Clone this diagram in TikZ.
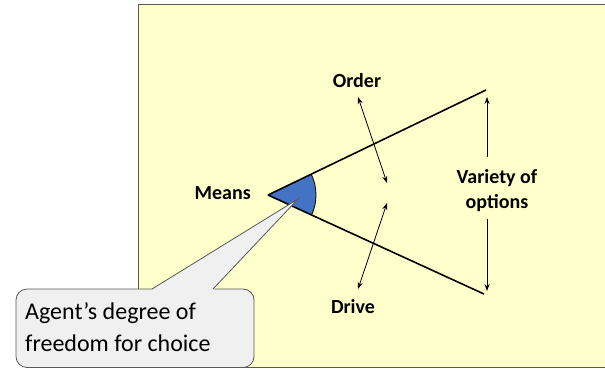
\documentclass[tikz,border=0pt]{standalone}
\usepackage{fontspec}
\setmainfont{Carlito}
\usetikzlibrary{arrows.meta,calc}
\definecolor{bgyellow}{HTML}{FFFFCC}
\definecolor{framegray}{HTML}{595959}
\definecolor{sectorblue}{HTML}{4472C4}
\definecolor{calloutfill}{HTML}{F0F0F0}
\tikzset{
  lbl/.style={font=\fontsize{20}{25}\selectfont\bfseries, inner sep=0pt, align=center},
  ray/.style={line width=1.6pt},
  dbl/.style={line width=0.8pt, {Stealth[length=7pt,width=5pt]}-{Stealth[length=7pt,width=5pt]}},
  sgl/.style={line width=0.8pt, -{Stealth[length=7pt,width=5pt]}},
}
\begin{document}
\begin{tikzpicture}[x=1pt,y=-1pt]
\useasboundingbox (0,0) rectangle (605,368);
% background panel
\draw[framegray, fill=bgyellow, line width=0.8pt] (138,4) rectangle (607,367);
% apex and ray ends
\coordinate (apex) at (268,195);
\coordinate (upend) at (486,90);
\coordinate (loend) at (484,294);
% blue sector
\fill[sectorblue] (apex) -- ($(apex)!48pt!(upend)$) arc[start angle=25.7, end angle=-24.6, radius=48pt] -- cycle;
\draw[line width=0.8pt] ($(apex)!48pt!(upend)$) arc[start angle=25.7, end angle=-24.6, radius=48pt];
% rays
\draw[ray] (apex) -- (upend);
\draw[ray] (apex) -- (loend);
% labels
\node[lbl, anchor=east] (means) at (251,193) {Means};
\node[lbl] (order) at (357,81) {Order};
\node[lbl] (drive) at (353,307) {Drive};
\node[lbl] (variety) at (497,191) {Variety of\\options};
% order / drive arrows
\coordinate (o1) at (358,97);
\coordinate (o2) at (387,183);
\coordinate (d1) at (387,203);
\coordinate (d2) at (358,289);
\draw[dbl] (o1) -- (o2);
\draw[dbl] (d1) -- (d2);
% variety arrows
\coordinate (v1) at (487,97);
\coordinate (v2) at (487,291);
\coordinate (v1s) at (487,157);
\coordinate (v2s) at (487,219);
\draw[sgl] (v1s) -- (v1);
\draw[sgl] (v2s) -- (v2);
% callout
\coordinate (tip) at (298,199);
\coordinate (pl) at (152,289);
\coordinate (pr) at (213,289);
\draw[framegray, fill=calloutfill, line width=0.8pt, rounded corners=11pt] (16,289) rectangle (254,367.5);
\fill[calloutfill] ($(pl)+(-0.5,1)$) -- (tip) -- ($(pr)+(0.5,1)$) -- cycle;
\draw[framegray, line width=0.8pt] (pl) -- (tip) -- (pr);
\node[font=\fontsize{24}{32}\selectfont, align=left, anchor=north west, inner sep=0pt] (callout) at (25,302) {Agent’s degree of\\freedom for choice};
\end{tikzpicture}
\end{document}
